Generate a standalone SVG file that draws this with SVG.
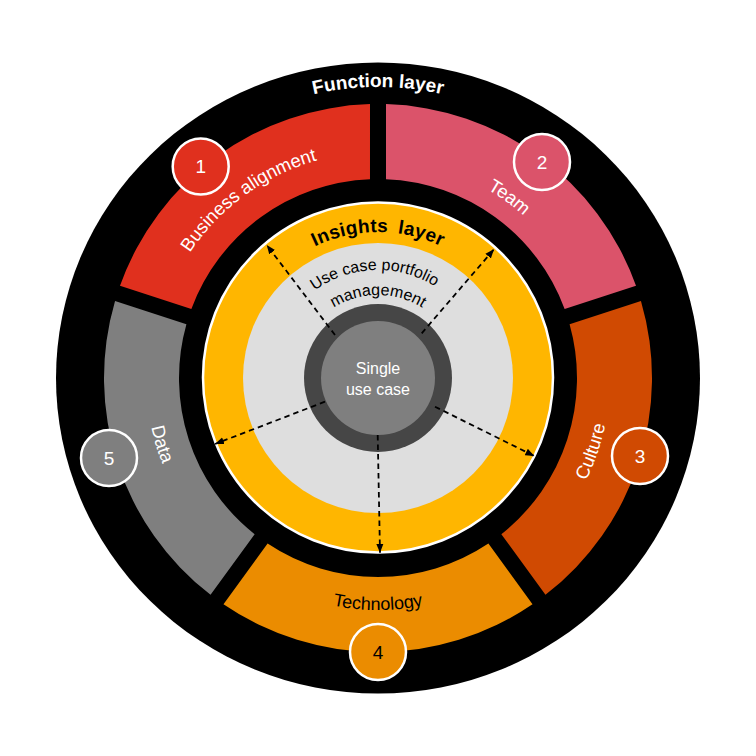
<svg xmlns="http://www.w3.org/2000/svg" xmlns:xlink="http://www.w3.org/1999/xlink" width="756" height="756" viewBox="0 0 756 756">
<style>
text{font-family:"Liberation Sans",Arial,sans-serif}
.lbl{font-size:18.5px;fill:#fff}
.lblk{font-size:18px;fill:#000}
.num{font-size:19px;fill:#fff;text-anchor:middle}
.badge{stroke:#fff;stroke-width:2.5}
.conn{stroke:#000;stroke-width:1.8;stroke-dasharray:5.5 4;fill:none}
</style>
<defs>
<path id="seg" d="M 223.49,151.72 A 274 274 0 0 1 532.51,151.72 L 488.40,212.43 A 199 199 0 0 0 267.60,212.43 Z"/>
<path id="p-func" d="M 125.98 232.5 A 291 291 0 0 1 630.02 232.5"/>
<path id="p-ins" d="M 251.56 305 A 146 146 0 0 1 504.44 305"/>
<path id="p-ucp" d="M 282.64 327.30 A 108 108 0 0 1 469.59 320.77"/>
<path id="p-mgmt" d="M 306.12 336.5 A 83 83 0 0 1 449.88 336.5"/>
<path id="p-bus" d="M 153.24 401.62 A 226 226 0 0 1 469.92 171.54"/>
<path id="p-team" d="M 289.33 178.85 A 218 218 0 0 1 594.81 400.79"/>
<path id="p-cult" d="M 422.27 605.74 A 232 232 0 0 0 553.09 225.79"/>
<path id="p-tech" d="M 177.08 494 A 232 232 0 0 0 578.92 494"/>
<path id="p-data" d="M 208.33 219.78 A 232 232 0 0 0 325.81 604.05"/>
<marker id="ah" viewBox="0 0 10 8" refX="10" refY="4" markerWidth="9" markerHeight="7.5" markerUnits="userSpaceOnUse" orient="auto">
<path d="M0,0 L10,4 L0,8 Z" fill="#000"/>
</marker>
</defs>

<g id="function-layer">
<ellipse cx="378" cy="378" rx="322" ry="315.5" fill="#000"/>
<text font-size="19" font-weight="bold" fill="#fff" text-anchor="middle"><textPath xlink:href="#p-func" href="#p-func" startOffset="50%">Function layer</textPath></text>
</g>

<g id="seg-business-alignment">
<use xlink:href="#seg" href="#seg" transform="rotate(-36 378 378)" fill="#E0301E"/>
<text class="lbl" text-anchor="middle"><textPath xlink:href="#p-bus" href="#p-bus" startOffset="50%">Business alignment</textPath></text>
<circle class="badge" cx="200.7" cy="166.5" r="28" fill="#E0301E"/>
<text class="num" x="200.7" y="173.3">1</text>
</g>

<g id="seg-team">
<use xlink:href="#seg" href="#seg" transform="rotate(36 378 378)" fill="#DB536A"/>
<text class="lbl" text-anchor="middle"><textPath xlink:href="#p-team" href="#p-team" startOffset="50%">Team</textPath></text>
<circle class="badge" cx="542" cy="162" r="28" fill="#DB536A"/>
<text class="num" x="542" y="168.8">2</text>
</g>

<g id="seg-culture">
<use xlink:href="#seg" href="#seg" transform="rotate(108 378 378)" fill="#D04A02"/>
<text class="lbl" font-size="19" text-anchor="middle"><textPath xlink:href="#p-cult" href="#p-cult" startOffset="50%">Culture</textPath></text>
<circle class="badge" cx="640" cy="456" r="28" fill="#D04A02"/>
<text class="num" x="640" y="462.8">3</text>
</g>

<g id="seg-technology">
<use xlink:href="#seg" href="#seg" transform="rotate(180 378 378)" fill="#EB8C00"/>
<text class="lblk" text-anchor="middle"><textPath xlink:href="#p-tech" href="#p-tech" startOffset="50%">Technology</textPath></text>
<circle class="badge" cx="378" cy="652" r="28" fill="#EB8C00"/>
<text class="num" x="378" y="658.8" fill="#000" style="fill:#000">4</text>
</g>

<g id="seg-data">
<use xlink:href="#seg" href="#seg" transform="rotate(252 378 378)" fill="#7F7F7F"/>
<text class="lbl" font-size="19" text-anchor="middle"><textPath xlink:href="#p-data" href="#p-data" startOffset="50%">Data</textPath></text>
<circle class="badge" cx="109" cy="458" r="28" fill="#7F7F7F"/>
<text class="num" x="109" y="464.8">5</text>
</g>

<g id="insights-layer">
<circle cx="378" cy="377.5" r="175" fill="#FFB600" stroke="#fff" stroke-width="2.5"/>
<text font-size="19" font-weight="bold" fill="#000" text-anchor="middle" letter-spacing="0.3" word-spacing="4"><textPath xlink:href="#p-ins" href="#p-ins" startOffset="50%">Insights layer</textPath></text>
</g>

<g id="use-case-portfolio">
<circle cx="378" cy="378" r="135" fill="#DEDEDE"/>
<text font-size="16" fill="#000" text-anchor="middle"><textPath xlink:href="#p-ucp" href="#p-ucp" startOffset="50%">Use case portfolio</textPath></text>
<text font-size="16" fill="#000" text-anchor="middle"><textPath xlink:href="#p-mgmt" href="#p-mgmt" startOffset="50%">management</textPath></text>
</g>

<g id="single-use-case">
<circle cx="378" cy="378" r="74" fill="#464646"/>
<circle cx="378" cy="378" r="57" fill="#7F7F7F"/>
<text x="378" y="373.5" font-size="16" fill="#fff" text-anchor="middle">Single</text>
<text x="378" y="394.5" font-size="16" fill="#fff" text-anchor="middle">use case</text>
</g>

<g id="connectors">
<line class="conn" x1="335" y1="335" x2="266.7" y2="245" marker-end="url(#ah)"/>
<line class="conn" x1="421.7" y1="333.3" x2="494" y2="249.3" marker-end="url(#ah)"/>
<line class="conn" x1="435" y1="406.7" x2="534.3" y2="456" marker-end="url(#ah)"/>
<line class="conn" x1="377.7" y1="435" x2="380" y2="552.7" marker-end="url(#ah)"/>
<line class="conn" x1="325" y1="401.7" x2="215" y2="444" marker-end="url(#ah)"/>
</g>
</svg>
